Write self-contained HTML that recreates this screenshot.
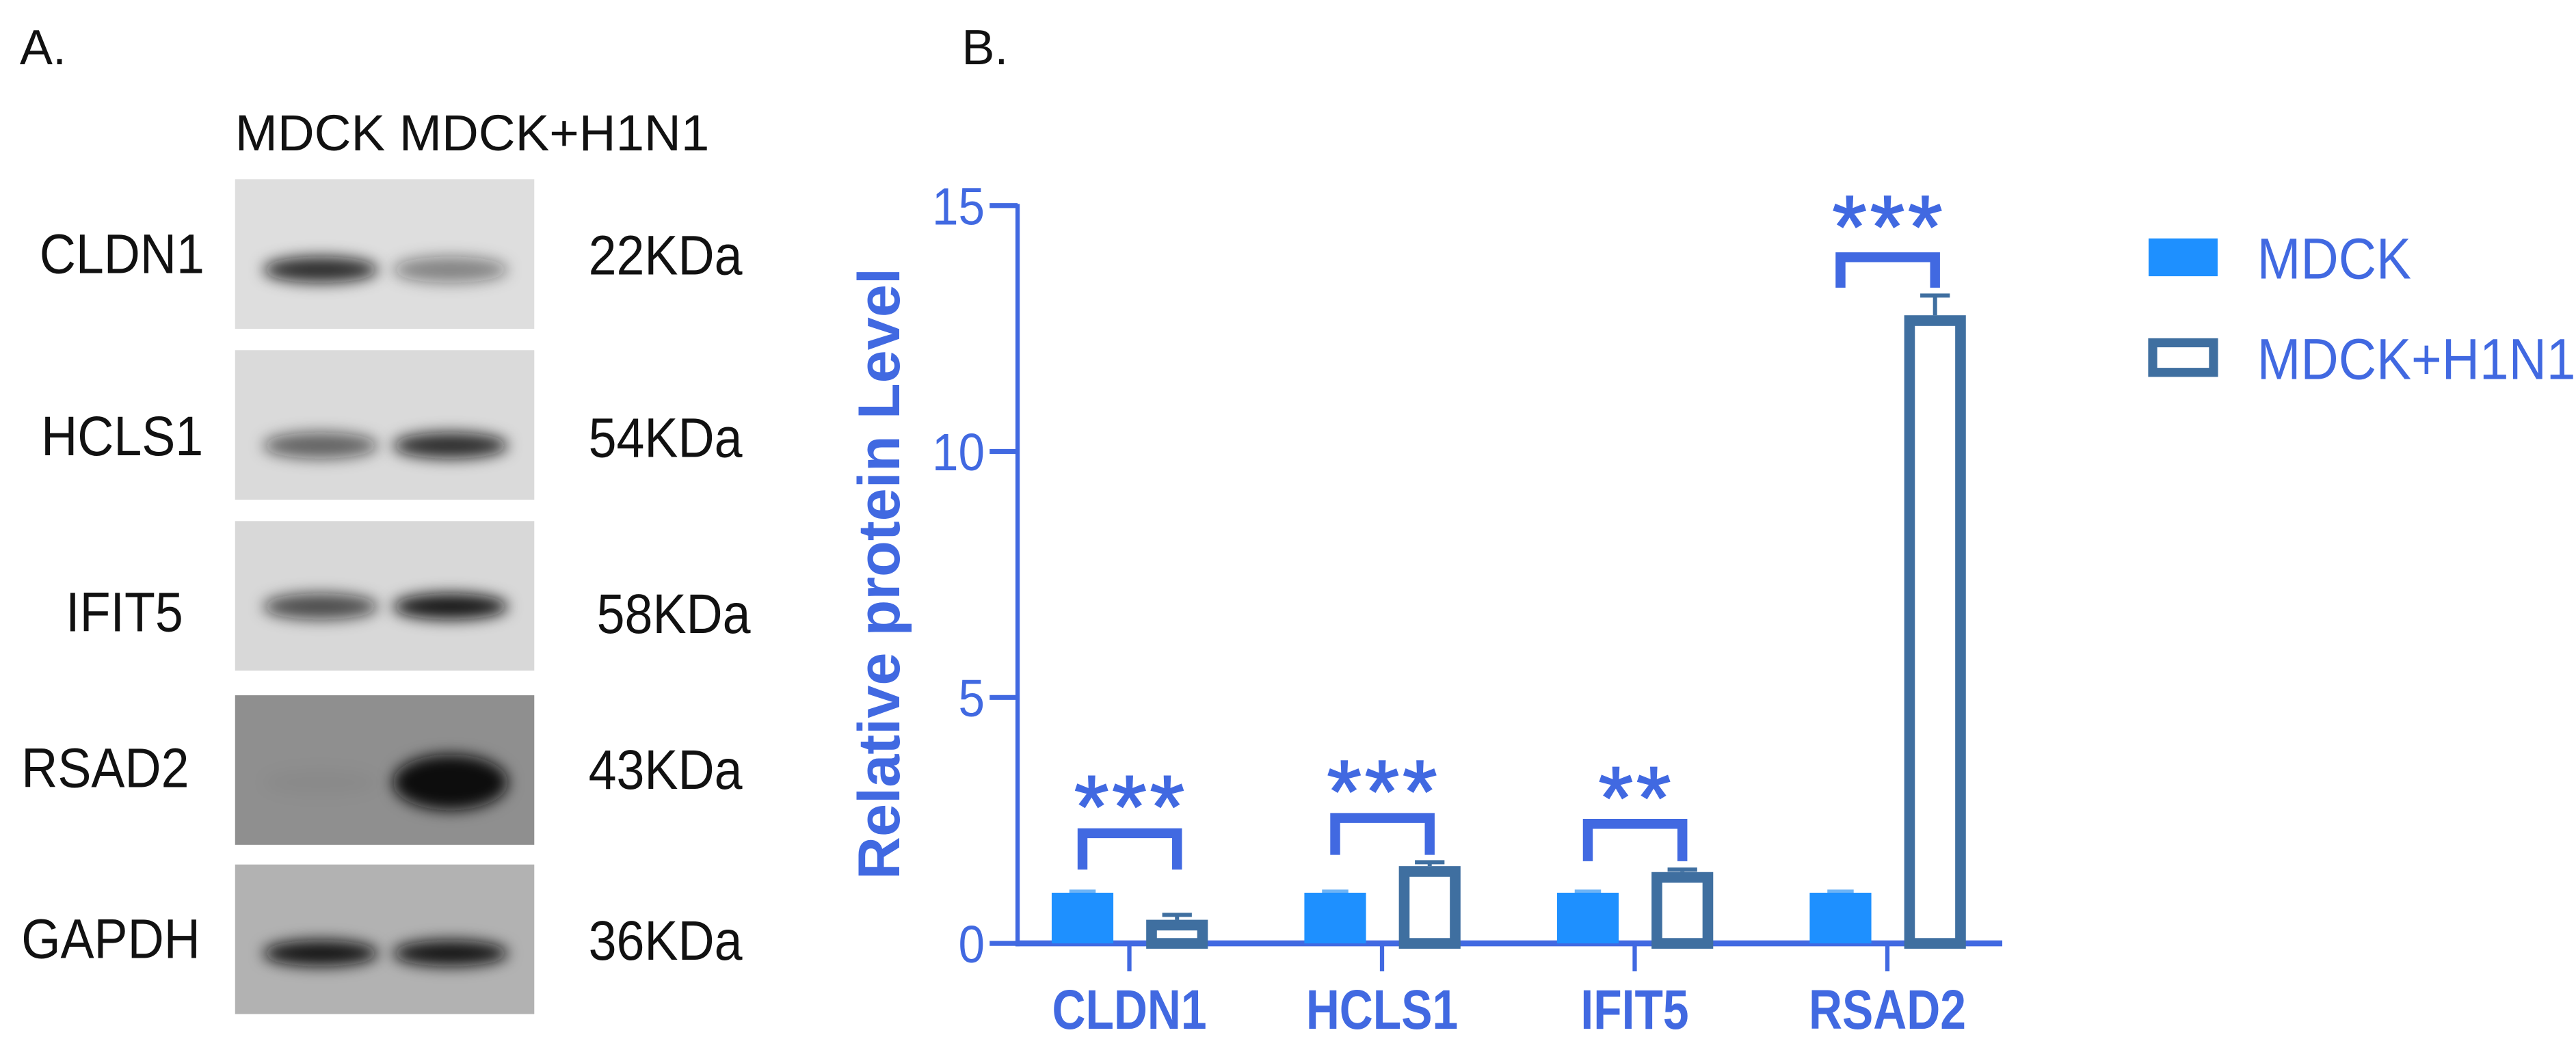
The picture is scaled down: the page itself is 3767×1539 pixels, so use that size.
<!DOCTYPE html>
<html><head><meta charset="utf-8"><style>
html,body{margin:0;padding:0;background:#fff;}
svg{display:block;}
</style></head><body>
<svg id="fig" width="3767" height="1539" viewBox="0 0 1567 640" xmlns="http://www.w3.org/2000/svg">
<defs>
<filter id="blur" x="-30%" y="-100%" width="160%" height="300%"><feGaussianBlur stdDeviation="4.5"/></filter>
</defs>
<g font-family="Liberation Sans, sans-serif" fill="#111">
<text x="12" y="39" font-size="30">A.</text>
<text x="143" y="91.5" font-size="31">MDCK MDCK+H1N1</text>
<g id="blots"></g>
</g>
<g id="chart" font-family="Liberation Sans, sans-serif"></g>
</svg>
<script>
// Western blot data
const blotNames=["CLDN1","HCLS1","IFIT5","RSAD2","GAPDH"];
const blotSizes=["22KDa","54KDa","58KDa","43KDa","36KDa"];
const bandLeft=[0.85,0.6,0.7,0.04,0.95];
const bandRight=[0.45,0.85,0.95,1.0,0.95];
// Chart data
const categories=["CLDN1","HCLS1","IFIT5","RSAD2"];
const mdck=[1.03,1.03,1.03,1.03];
const mdckErr=[0.03,0.03,0.03,0.03];
const h1n1=[0.48,1.57,1.45,12.77];
const h1n1Err=[0.1,0.08,0.05,0.4];
const bracketTop=[2.34,2.65,2.53,14.05];
const bracketLeg=[1.5,1.8,1.67,13.33];
const starLevel=[3.16,3.47,3.34,14.95];
const sigLabels=["***","***","**","***"];
const yTicks=[0,5,10,15];
const legendLabels=["MDCK","MDCK+H1N1"];

const NS="http://www.w3.org/2000/svg";
function mk(tag,attrs,parent){const e=document.createElementNS(NS,tag);for(const k in attrs)e.setAttribute(k,attrs[k]);parent.appendChild(e);return e;}

// ---- blots
const bg=document.getElementById('blots');
const rowTop=[109,213,317,423,526];
const bandDy=[55,58,52,53,54];
const bgCol=["#dedede","#dadada","#d8d8d8","#8f8f8f","#b2b2b2"];
const labelX=[24,25,40,13,13];
const kdaX=[358,358,363,358,358];
blotNames.forEach((n,i)=>{
  const y=rowTop[i];
  const r=mk('rect',{x:143,y:y,width:182,height:91,fill:bgCol[i]},bg);
  
  
  const cy=y+bandDy[i];
  [[195,bandLeft[i]],[274,bandRight[i]]].forEach(([cx,s],j)=>{
    const e=mk('ellipse',{cx:cx,cy:cy,rx:35,ry:i==3&&j==1?17:8,fill:'#111','fill-opacity':s,filter:'url(#blur)'},bg);
    
    
  });
  const base=[166,277,384,479,583][i];
  const t=mk('text',{x:0,y:0,'font-size':34,transform:`translate(${labelX[i]},${base}) scale(0.9,1)`},bg);t.textContent=n;
  
  
  const k=mk('text',{x:0,y:0,'font-size':34,transform:`translate(${kdaX[i]},${base+1}) scale(0.9,1)`},bg);k.textContent=blotSizes[i];
  
  
});

// ---- chart
const g=document.getElementById('chart');
const blue="#4169e1", fillBlue="#1e90ff", steel="#3f6fa0";
const x0=619, y0=574, yTop=125, yMax=15;
const yS=v=>y0-(v/yMax)*(y0-yTop);
const catStep=153.7, cat0=687;
const xC=i=>cat0+i*catStep;
const bw=37.5, offL=28.5, offR=29;

let t=mk('text',{x:585,y:39,'font-size':30,fill:'#111'},g);t.textContent="B.";



let yt=mk('text',{x:0,y:0,'font-size':36,'font-weight':'bold',fill:blue,'text-anchor':'middle',transform:'translate(547,349) rotate(-90)'},g);
yt.textContent="Relative protein Level";



let ya=mk('line',{x1:x0,y1:yTop-1,x2:x0,y2:y0+1.8,stroke:blue,'stroke-width':2.6},g);


let xa=mk('line',{x1:x0-1.3,y1:y0,x2:1218,y2:y0,stroke:blue,'stroke-width':3.6},g);



yTicks.forEach(v=>{
  const tk=mk('line',{x1:x0-17,y1:yS(v),x2:x0,y2:yS(v),stroke:blue,'stroke-width':3},g);
  
  
  const tl=mk('text',{x:0,y:0,'font-size':32,fill:blue,'text-anchor':'end',transform:`translate(${x0-20},${yS(v)+11.5}) scale(0.9,1)`},g);
  tl.textContent=v;
  
  
});

categories.forEach((c,i)=>{
  const cx=xC(i);
  const tk=mk('line',{x1:cx,y1:y0,x2:cx,y2:y0+17,stroke:blue,'stroke-width':2.6},g);
  
  
  const tl=mk('text',{x:0,y:0,'font-size':34,'font-weight':'bold',fill:blue,'text-anchor':'middle',transform:`translate(${cx},${y0+52}) scale(0.83,1)`},g);
  tl.textContent=c;
  
  
  // MDCK bar
  const mx=cx-offL;
  const e1=mk('line',{x1:mx-8,y1:yS(mdck[i]+mdckErr[i]),x2:mx+8,y2:yS(mdck[i]+mdckErr[i]),stroke:'#6fb4f5','stroke-width':2},g);
  
  
  const b1=mk('rect',{x:mx-bw/2,y:yS(mdck[i]),width:bw,height:y0-yS(mdck[i]),fill:fillBlue},g);
  
  
  // H1N1 bar
  const hx=cx+offR, sw=6.5;
  const top=yS(h1n1[i]);
  const eTop=yS(h1n1[i]+h1n1Err[i]);
  const e2=mk('path',{d:`M${hx},${top} V${eTop} M${hx-9},${eTop} H${hx+9}`,stroke:steel,'stroke-width':2.5,fill:'none'},g);
  
  
  const b2=mk('rect',{x:hx-bw/2+sw/2,y:top+sw/2,width:bw-sw,height:Math.max(0,y0-top-sw/2),fill:'#fff',stroke:steel,'stroke-width':sw},g);
  
  
  // significance bracket
  const legY=yS(bracketLeg[i]), barY=yS(bracketTop[i])+3;
  const br=mk('path',{d:`M${mx},${legY} V${barY} H${hx} V${legY}`,stroke:blue,'stroke-width':6,fill:'none'},g);
  
  
  const st=mk('text',{x:cx+1,y:yS(starLevel[i])+30,'font-size':54,fill:blue,'text-anchor':'middle','letter-spacing':'2',stroke:blue,'stroke-width':0.8},g);
  st.textContent=sigLabels[i];
  
  
});

// legend
const lg=mk('g',{},g);


legendLabels.forEach((l,i)=>{
  const y=145+i*61;
  const sw=i?mk('rect',{x:1309.5,y:y+2.5,width:37,height:18,fill:'#fff',stroke:steel,'stroke-width':5.5},lg):mk('rect',{x:1307,y:y,width:42,height:23,fill:fillBlue},lg);
  
  
  const tx=mk('text',{x:0,y:0,'font-size':35,fill:blue,transform:`translate(1373,${y+24.5}) scale(0.91,1)`},lg);
  tx.textContent=l;
  
  
});
</script>
</body></html>
